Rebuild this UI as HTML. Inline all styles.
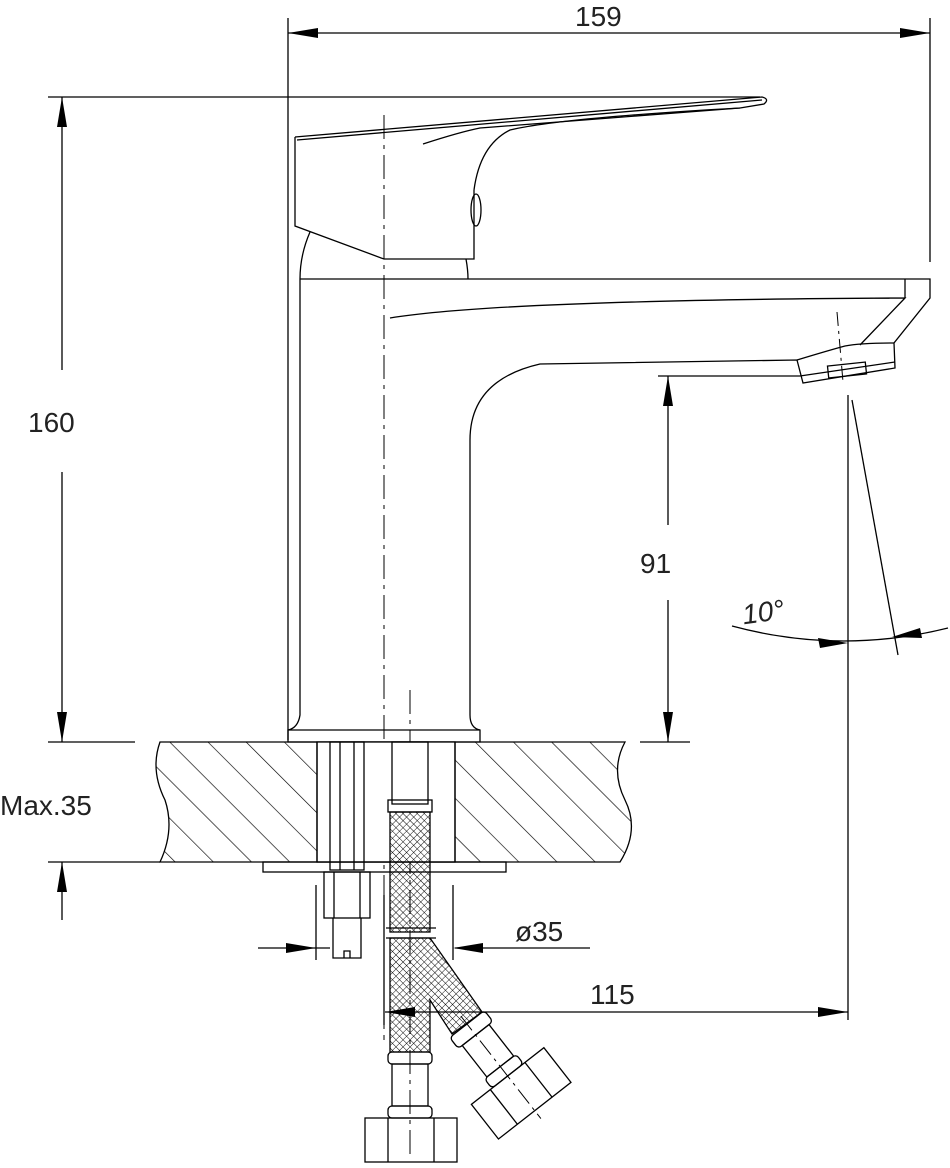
<!DOCTYPE html>
<html><head><meta charset="utf-8"><style>
html,body{margin:0;padding:0;background:#fff}
svg{display:block}
text{font-family:"Liberation Sans",sans-serif;font-size:28px;fill:#222}
</style></head><body>
<svg width="950" height="1168" viewBox="0 0 950 1168" xmlns="http://www.w3.org/2000/svg">
<defs>
<pattern id="hatch" width="27" height="27" patternUnits="userSpaceOnUse" patternTransform="rotate(-45)">
<line x1="0" y1="0" x2="0" y2="27" stroke="#000" stroke-width="1.3"/>
</pattern>
<pattern id="mesh" width="5" height="5" patternUnits="userSpaceOnUse" patternTransform="rotate(45)">
<path d="M0 0H5M0 0V5" stroke="#000" stroke-width="0.9" fill="none"/>
</pattern>
</defs>
<g fill="none" stroke="#000" stroke-width="1.3">
<!-- top dimension -->
<line x1="288" y1="18" x2="288" y2="740"/>
<line x1="930" y1="18" x2="930" y2="262"/>
<line x1="288" y1="33" x2="930" y2="33"/>
<!-- left dimension -->
<line x1="48" y1="97" x2="760" y2="97"/>
<line x1="48" y1="742" x2="135" y2="742"/>
<line x1="62" y1="97" x2="62" y2="370"/>
<line x1="62" y1="472" x2="62" y2="742"/>
<line x1="48" y1="862" x2="160" y2="862"/>
<line x1="62" y1="862" x2="62" y2="920"/>
<!-- handle -->
<path d="M295 137 L295 226 L384 259 L474 259 L474 190"/>
<path d="M295 137 L762 97 Q770 99 764 104 L740 108 Q560 118 510 130 Q480 145 474 190"/>
<path d="M297 140 L762 100"/>
<path d="M423 144 Q460 132 480 128 L740 108"/>
<ellipse cx="476" cy="210" rx="5" ry="16"/>
<path d="M310 232 Q300 255 300 279 M466 259 Q468 270 468 279"/>
<!-- spout -->
<path d="M300 279 L930 279 L930 298 L894 343 L895 368 L803 383 L797 360 L540 364 Q470 380 470 440"/>
<line x1="905" y1="279" x2="905" y2="298"/>
<path d="M390 318 Q500 300 905 298 L860 345"/>
<path d="M797 360 Q830 350 845 346 Q860 343 894 343"/>
<path d="M800 376 L895 362"/>
<rect x="828" y="364" width="38" height="12" transform="rotate(-6 847 370)"/>
<line x1="837" y1="312" x2="843" y2="382" stroke-dasharray="14,5,3,5" stroke-width="1"/>
<!-- body column -->
<path d="M300 279 L300 715 Q298 728 288 730 L288 742 L480 742 L480 730 Q470 728 470 715 L470 440"/>
<line x1="288" y1="730" x2="480" y2="730"/>
<!-- centerline -->
<line x1="384" y1="115" x2="384" y2="1040" stroke-dasharray="24,6,4,6" stroke-width="1"/>
<line x1="410" y1="690" x2="410" y2="1160" stroke-dasharray="24,6,4,6" stroke-width="1"/>
<!-- 91 dim -->
<line x1="658" y1="376" x2="800" y2="376"/>
<line x1="668" y1="376" x2="668" y2="525"/>
<line x1="668" y1="600" x2="668" y2="742"/>
<line x1="640" y1="742" x2="690" y2="742"/>
<!-- 10 deg -->
<line x1="848" y1="395" x2="848" y2="1020"/>
<line x1="852" y1="400" x2="898" y2="655"/>
<path d="M732 626 Q840 655 948 628"/>
<!-- countertop -->
<path d="M160 742 L625 742 Q610 770 625 800 Q640 830 620 862 L160 862 Q175 830 165 800 Q150 770 160 742 Z" fill="url(#hatch)"/>
<rect x="317" y="742" width="138" height="120" fill="#fff"/>
<line x1="317" y1="742" x2="317" y2="862"/>
<line x1="455" y1="742" x2="455" y2="862"/>
<rect x="263" y="862" width="243" height="10"/>
<!-- stud -->
<rect x="330" y="742" width="34" height="128"/>
<line x1="340" y1="742" x2="340" y2="870"/><line x1="354" y1="742" x2="354" y2="870"/>
<rect x="324" y="872" width="46" height="46"/>
<line x1="334" y1="872" x2="334" y2="918"/><line x1="360" y1="872" x2="360" y2="918"/>
<path d="M333 918 L333 958 L361 958 L361 918 M344 958 L344 951 L350 951 L350 958"/>
<line x1="316" y1="885" x2="316" y2="960"/><line x1="453" y1="885" x2="453" y2="960"/>
<line x1="384" y1="895" x2="384" y2="1025"/>
<!-- hose 1 -->
<rect x="392" y="742" width="36" height="62"/>
<rect x="388" y="800" width="44" height="12"/>
<rect x="390" y="812" width="40" height="120" fill="url(#mesh)"/>
<line x1="386" y1="928" x2="436" y2="928"/><line x1="386" y1="938" x2="436" y2="938"/>
<path d="M390 938 L430 938 L482 1012 L452 1034 L430 1000 L430 1052 L390 1052 Z" fill="url(#mesh)"/>
<rect x="388" y="1052" width="44" height="12" rx="4"/>
<rect x="392" y="1064" width="36" height="42"/>
<rect x="388" y="1106" width="44" height="12" rx="4"/>
<rect x="365" y="1118" width="92" height="44"/>
<line x1="388" y1="1118" x2="388" y2="1162"/><line x1="434" y1="1118" x2="434" y2="1162"/>
<!-- hose 2 fittings -->
<g transform="translate(467 1024) rotate(-38)">
<rect x="-22" y="0" width="44" height="14" rx="4"/>
<rect x="-17" y="14" width="34" height="40"/>
<rect x="-20" y="54" width="40" height="12" rx="4"/>
<rect x="-46" y="66" width="92" height="44"/>
<line x1="-22" y1="66" x2="-22" y2="110"/><line x1="22" y1="66" x2="22" y2="110"/>
<line x1="0" y1="-10" x2="0" y2="120" stroke-dasharray="18,5,3,5" stroke-width="1"/>
</g>
<!-- ø35 dim -->
<line x1="258" y1="948" x2="330" y2="948"/>
<line x1="455" y1="948" x2="590" y2="948"/>
<!-- 115 dim -->
<line x1="385" y1="1012" x2="848" y2="1012"/>
</g>
<g fill="#000">
<polygon points="288,33 318,28 318,38"/>
<polygon points="930,33 900,28 900,38"/>
<polygon points="62,97 57,127 67,127"/>
<polygon points="62,742 57,712 67,712"/>
<polygon points="62,862 57,892 67,892"/>
<polygon points="668,376 663,406 673,406"/>
<polygon points="668,742 663,712 673,712"/>
<polygon points="848,643 818,638 820,648"/>
<polygon points="892,637 920,628 922,638"/>
<polygon points="316,948 286,943 286,953"/>
<polygon points="453,948 483,943 483,953"/>
<polygon points="385,1012 415,1007 415,1017"/>
<polygon points="848,1012 818,1007 818,1017"/>
</g>
<text x="575" y="26">159</text>
<text x="28" y="432">160</text>
<text x="0" y="815">Max.35</text>
<text x="640" y="573">91</text>
<text x="742" y="622" transform="rotate(-8 760 612)" font-style="italic">10°</text>
<text x="515" y="941">ø35</text>
<text x="590" y="1004">115</text>
</svg>
</body></html>
